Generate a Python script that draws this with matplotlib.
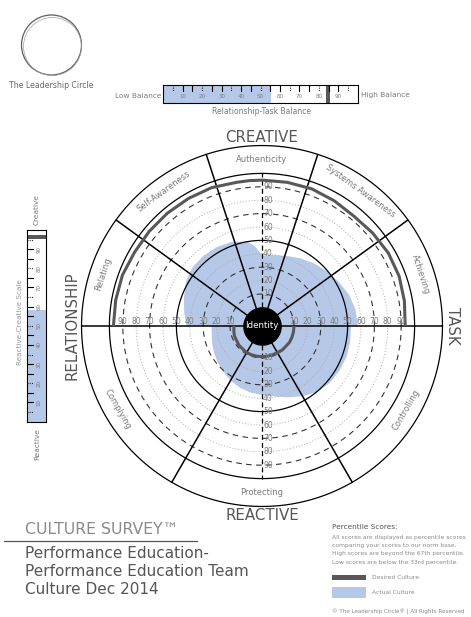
import matplotlib
matplotlib.use("Agg")
import matplotlib.pyplot as plt
import matplotlib.transforms as mtransforms
import numpy as np
from matplotlib.patches import Rectangle, Circle

W, H = 471, 617

# ---- data ----
sector_names = ["Achieving", "Systems Awareness", "Authenticity", "Self-Awareness",
                "Relating", "Complying", "Protecting", "Controlling"]
sector_edges = [0, 36, 72, 108, 144, 180, 240, 300, 360]

creative_angle = [0, 10, 20, 30, 40, 50, 60, 70, 80, 90, 95, 100, 110, 120, 130, 140, 150, 160, 170, 180]
creative_actual = [57.8, 57, 55.1, 52.2, 49.6, 46.9, 44.3, 41.7, 39.9, 38.7, 45.8, 50.3,
                   52.9, 54, 54.4, 54, 51.8, 48.1, 45.1, 42.5]
creative_desired = [93, 94, 95, 95, 94, 93, 94, 95, 95, 95, 95, 95, 96, 96, 96, 96, 96, 97, 97, 97]

reactive_angle = [180, 190, 200, 210, 220, 230, 240, 250, 260, 270, 280, 290, 300, 310, 320, 330, 340, 350, 360]
reactive_actual = [23.8, 24.2, 25.7, 27.2, 29, 30.9, 33.1, 35, 36.5, 37.6, 39.5, 42.8, 46.6,
                   50.4, 52.2, 52.9, 53.3, 52.9, 52.5]
reactive_desired = [7, 7.5, 8, 8, 8.5, 8.5, 9, 9, 9, 9, 9, 9, 9, 9.5, 9.5, 10, 10, 10, 10]

ring_dashed = [10, 30, 70, 90]
ring_dotted = [20, 40, 60, 80]
axis_ticks = [10, 20, 30, 40, 50, 60, 70, 80, 90]
bar_ticks = [5, 10, 15, 20, 25, 30, 35, 40, 45, 50, 55, 60, 65, 70, 75, 80, 85, 90, 95]
bar_ticks_dotted = [5, 20, 35, 50, 65, 80, 95]

balance_actual = 55.5
balance_desired = 84.5
scale_actual = 58
scale_desired = 96.3

BLUE = "#B6C8E7"
DARK = "#58585A"
GREY_TXT = "#7A7A7A"

plt.rcParams["font.family"] = ["DejaVu Sans"]

fig = plt.figure(figsize=(W / 100, H / 100), dpi=100)

# background axes in pixel coordinates for page furniture
bg = fig.add_axes([0, 0, 1, 1])
bg.set_xlim(0, W)
bg.set_ylim(H, 0)
bg.axis("off")

# ---- polar chart ----
cx, cy, R = 262, 326, 181
px_per_pct = 1.34
hole = 18.6 / px_per_pct
rmax = (R - 18.6) / px_per_pct
ax = fig.add_axes([(cx - R) / W, (H - cy - R) / H, 2 * R / W, 2 * R / H],
                  projection="polar", zorder=2)
ax.set_facecolor("none")
ax.set_ylim(-hole, rmax)
ax.grid(False)
ax.set_xticks([])
ax.set_yticks([])
for s in ax.spines.values():
    s.set_visible(False)

th = np.linspace(0, 2 * np.pi, 400)

# actual culture (blue)
ca = np.deg2rad(creative_angle)
ra = np.deg2rad(reactive_angle)
ax.fill(np.concatenate([ca, ra]), np.concatenate([creative_actual, reactive_actual]),
        color=BLUE, lw=0, zorder=1)

# rings
for p in ring_dotted:
    ax.plot(th, np.full_like(th, p), color="#AAAAAA", lw=0.7, ls=(0, (1, 2)), zorder=2)
for p in ring_dashed:
    ax.plot(th, np.full_like(th, p), color="#333333", lw=0.8, ls=(0, (5, 4)), zorder=2)
ax.plot(th, np.full_like(th, 50), color="black", lw=0.9, zorder=3)
ax.plot(th, np.full_like(th, 100), color="black", lw=0.9, zorder=3)
ax.plot(th, np.full_like(th, rmax - 0.4), color="black", lw=0.9, zorder=3, clip_on=False)

# sector divider lines
for e in sector_edges[:-1]:
    ax.plot([np.deg2rad(e)] * 2, [0, rmax - 0.4], color="black", lw=1.1, zorder=4)
# vertical percentile axis
for a in (90, 270):
    ax.plot([np.deg2rad(a)] * 2, [0, 100], color="black", lw=0.9, ls=(0, (4, 2.5)), zorder=4)

# desired culture (dark grey line)
ax.plot(ca, creative_desired, color=DARK, lw=2.2, zorder=5, solid_capstyle="butt")
ax.plot(ra, reactive_desired, color=DARK, lw=2.2, zorder=5, solid_capstyle="butt")

# identity disc
ax.fill_between(th, -hole, 0, color="black", zorder=6)
ax.text(0, -hole, "Identity", color="white", ha="center", va="center", fontsize=6.3, zorder=7)

# percentile labels
up = mtransforms.offset_copy(ax.transData, fig=fig, x=0, y=4, units="dots")
right = mtransforms.offset_copy(ax.transData, fig=fig, x=1, y=0, units="dots")
for p in axis_ticks:
    for a, tr, ha in ((0, up, "center"), (np.pi, up, "center"),
                      (np.pi / 2, right, "left"), (3 * np.pi / 2, right, "left")):
        ax.text(a, p, str(p), transform=tr, ha=ha, va="center", fontsize=5.5,
                color=GREY_TXT, zorder=6)

# sector names on the outer band
r_lab = (100 + rmax) / 2
for name, a0, a1 in zip(sector_names, sector_edges[:-1], sector_edges[1:]):
    mid = (a0 + a1) / 2
    rot = mid - 90 if mid < 180 else mid + 90
    ax.text(np.deg2rad(mid), r_lab, name, rotation=rot, rotation_mode="anchor",
            ha="center", va="center", fontsize=6, color=GREY_TXT, zorder=6)

# quadrant titles
for x, y, label, rot in ((cx, 137, "CREATIVE", 0), (cx, 516, "REACTIVE", 0),
                         (72, cy, "RELATIONSHIP", 90), (452, cy, "TASK", -90)):
    bg.text(x, y, label, ha="center", va="center", rotation=rot, fontsize=10.8, color="#555555")

# ---- logo ----
bg.add_patch(Circle((51.5, 45), 30, fill=False, ec="#5E5E5E", lw=0.9))
bg.add_patch(Circle((52.5, 46.5), 29, fill=False, ec="#A0A0A0", lw=0.5))
bg.text(51, 86, "The Leadership Circle", ha="center", va="center", fontsize=5.6, color="#666666")

# ---- relationship-task balance bar ----
hb = fig.add_axes([163.3 / W, 1 - 102.7 / H, 194.4 / W, 17.7 / H])
hb.set_xlim(0, 100)
hb.set_ylim(0, 1)
hb.barh(0.5, balance_actual, height=1, left=0, color=BLUE)
hb.barh(0.5, 2, height=1, left=balance_desired - 1, color=DARK)
for t in bar_ticks:
    ls = (0, (0.8, 1.2)) if t in bar_ticks_dotted else "-"
    hb.plot([t, t], [1, 0.68], color="black", lw=0.8, ls=ls)
for t in axis_ticks:
    hb.text(t, 0.33, str(t), ha="center", va="center", fontsize=4, color=GREY_TXT)
hb.set_xticks([])
hb.set_yticks([])
for s in hb.spines.values():
    s.set_linewidth(0.8)
bg.text(161, 95.5, "Low Balance", ha="right", va="center", fontsize=5.3, color=GREY_TXT)
bg.text(361, 95.5, "High Balance", ha="left", va="center", fontsize=5.3, color=GREY_TXT)
bg.text(cx, 111, "Relationship-Task Balance", ha="center", va="center", fontsize=5.5, color=GREY_TXT)

# ---- reactive-creative scale ----
vb = fig.add_axes([26.7 / W, 1 - 421.6 / H, 19 / W, 191.6 / H])
vb.set_xlim(0, 1)
vb.set_ylim(0, 100)
vb.bar(0.5, scale_actual, width=1, bottom=0, color=BLUE)
vb.bar(0.5, 2.4, width=1, bottom=scale_desired - 1.2, color=DARK)
for t in bar_ticks:
    ls = (0, (0.8, 1.2)) if t in bar_ticks_dotted else "-"
    vb.plot([0, 0.32], [t, t], color="black", lw=0.8, ls=ls)
for t in axis_ticks:
    vb.text(0.66, t, str(t), ha="center", va="center", rotation=90, fontsize=4, color=GREY_TXT)
vb.set_xticks([])
vb.set_yticks([])
for s in vb.spines.values():
    s.set_linewidth(0.8)
bg.text(37, 210, "Creative", ha="center", va="center", rotation=90, fontsize=5.3, color=GREY_TXT)
bg.text(37, 444, "Reactive", ha="center", va="center", rotation=90, fontsize=5.3, color=GREY_TXT)
bg.text(20, 322, "Reactive-Creative Scale", ha="center", va="center", rotation=90, fontsize=5.2, color="#999999")

# ---- title block ----
bg.text(25, 530, "CULTURE SURVEY\u2122", ha="left", va="center", fontsize=11.3, color="#8A8A8A")
bg.plot([4, 197], [541, 541], color="#555555", lw=0.9)
for y, line in zip([554, 572, 590], ["Performance Education-", "Performance Education Team", "Culture Dec 2014"]):
    bg.text(25, y, line, ha="left", va="center", fontsize=11, color="#555555")

# ---- legend / notes ----
bg.text(332, 527, "Percentile Scores:", ha="left", va="center", fontsize=5.3, color="#555555")
notes = ["All scores are displayed as percentile scores",
         "comparing your scores to our norm base.",
         "High scores are beyond the 67th percentile.",
         "Low scores are below the 33rd percentile."]
for y, line in zip([537, 545.5, 554, 562.5], notes):
    bg.text(332, y, line, ha="left", va="center", fontsize=4.35, color="#8A8A8A")
bg.add_patch(Rectangle((332, 575), 34, 4.5, color=DARK, lw=0))
bg.text(372, 577.3, "Desired Culture", ha="left", va="center", fontsize=4.3, color="#8A8A8A")
bg.add_patch(Rectangle((332, 587), 34, 11, color=BLUE, lw=0))
bg.text(372, 592.5, "Actual Culture", ha="left", va="center", fontsize=4.3, color="#8A8A8A")
bg.text(332, 612, "\u00a9 The Leadership Circle\u00ae | All Rights Reserved", ha="left", va="center",
        fontsize=4.05, color="#8A8A8A")

fig.savefig("out.png", dpi=100, facecolor="white")
